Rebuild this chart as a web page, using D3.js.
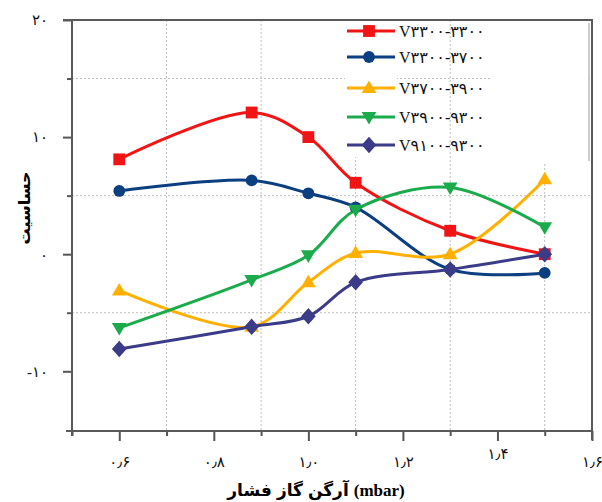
<!DOCTYPE html>
<html><head><meta charset="utf-8">
<script src="https://cdn.jsdelivr.net/npm/d3@7"></script>
<style>body{margin:0;background:#fff}svg{display:block}</style>
</head><body>
<svg id="c" width="602" height="502"></svg>
<script>
// ---- data ----
const pressures = [0.6, 0.88, 1.0, 1.1, 1.3, 1.5];
const seriesNames = ["V۳۳۰۰-۳۳۰۰","V۳۳۰۰-۳۷۰۰","V۳۷۰۰-۳۹۰۰","V۳۹۰۰-۹۳۰۰","V۹۱۰۰-۹۳۰۰"];
const red    = [8.1, 12.1, 10.0, 6.1, 2.0, 0.0];
const blue   = [5.4, 6.3, 5.2, 4.0, -1.3, -1.6];
const orange = [-3.1, -6.2, -2.4, 0.1, 0.0, 6.4];
const green  = [-6.3, -2.2, -0.1, 3.8, 5.7, 2.3];
const purple = [-8.1, -6.2, -5.3, -2.4, -1.3, 0.0];
const xMajorTicks = [0.6, 0.8, 1.0, 1.2, 1.4, 1.6];
const xMinorTicks = [0.5, 0.7, 0.9, 1.1, 1.3, 1.5];
const yMajorTicks = [-10, 0, 10, 20];
const yMinorTicks = [-5, 5, 15];
const xTitleWords = ["فشار", "گاز", "آرگن", "(mbar)"];
const yTitle = "حساسیت";

const colors = ["#f01414", "#0b3f80", "#ffb000", "#1bab4c", "#3b3b88"];
const values = [red, blue, orange, green, purple];

const fa = s => String(s).replace(/[0-9]/g, d => "۰۱۲۳۴۵۶۷۸۹"[d]);

const svg = d3.select("#c");
const x = d3.scaleLinear().domain([0.5, 1.6]).range([72, 592]);
const y = d3.scaleLinear().domain([-15.1, 20]).range([431, 20]);

// custom symbols
const sq = {draw(c, s){const h=Math.sqrt(s)/2;c.moveTo(-h,-h);c.lineTo(h,-h);c.lineTo(h,h);c.lineTo(-h,h);c.closePath();}};
const circ = {draw(c, s){const r=Math.sqrt(s/Math.PI);c.moveTo(r,0);c.arc(0,0,r,0,2*Math.PI);}};
const triUp = {draw(c, s){const w=Math.sqrt(s)*1.25,h=w*0.85;c.moveTo(0,-h*0.6);c.lineTo(w/2,h*0.4);c.lineTo(-w/2,h*0.4);c.closePath();}};
const triDn = {draw(c, s){const w=Math.sqrt(s)*1.25,h=w*0.85;c.moveTo(0,h*0.6);c.lineTo(w/2,-h*0.4);c.lineTo(-w/2,-h*0.4);c.closePath();}};
const diam = {draw(c, s){const w=Math.sqrt(s)*1.2,h=w*1.12;c.moveTo(0,-h/2);c.lineTo(w/2,0);c.lineTo(0,h/2);c.lineTo(-w/2,0);c.closePath();}};
const shapes = [sq, circ, triUp, triDn, diam];
const sizes = [140, 110, 140, 140, 150];

// grid
const grid = svg.append("g").attr("stroke", "#bdbdbd").attr("stroke-width", 1).attr("stroke-dasharray", "2,2");
grid.selectAll(".gx").data(xMinorTicks.slice(1)).join("line")
  .attr("x1", d => x(d)).attr("x2", d => x(d)).attr("y1", y(20)).attr("y2", y(-15.1));
grid.selectAll(".gy").data(yMinorTicks).join("line")
  .attr("y1", d => y(d)).attr("y2", d => y(d)).attr("x1", x(0.5)).attr("x2", x(1.6));

// legend backing patches
svg.append("rect").attr("x", 345).attr("y", 21).attr("width", 52).attr("height", 136).attr("fill", "#fff");
svg.append("rect").attr("x", 492).attr("y", 21).attr("width", 97).attr("height", 141).attr("fill", "#fff");
svg.append("line").attr("x1", 589).attr("x2", 589).attr("y1", 23).attr("y2", 161).attr("stroke", "#aaa").attr("stroke-width", 1.2);

// axes ticks
const fontNum = "'Liberation Serif','DejaVu Sans',serif";
const yMaj = svg.append("g").attr("transform", `translate(${x(0.5)},0)`)
  .call(d3.axisLeft(y).tickValues(yMajorTicks).tickSize(9).tickPadding(15).tickFormat(d => d < 0 ? "-" + fa(-d) : fa(d)));
const yMin = svg.append("g").attr("transform", `translate(${x(0.5)},0)`)
  .call(d3.axisLeft(y).tickValues(yMinorTicks).tickSize(5).tickFormat(""));
const xMaj = svg.append("g").attr("transform", `translate(0,${y(-15.1)})`)
  .call(d3.axisBottom(x).tickValues(xMajorTicks).tickSize(10).tickPadding(15).tickFormat(d => fa(d.toFixed(1)).replace(".", "٫")));
const xMin = svg.append("g").attr("transform", `translate(0,${y(-15.1)})`)
  .call(d3.axisBottom(x).tickValues(xMinorTicks).tickSize(5).tickFormat(""));
[yMaj, yMin, xMaj, xMin].forEach(g => {
  g.select(".domain").remove();
  g.selectAll(".tick line").attr("stroke", "#555").attr("stroke-width", 2);
  g.selectAll("text").attr("fill", "#111").style("font-family", fontNum).style("font-size", "15px");
});
xMaj.selectAll(".tick text").filter(d => d === 1.4).attr("y", 17);

// frame
const frame = svg.append("g").attr("stroke", "#5a5a5a").attr("stroke-width", 2).attr("fill", "none");
frame.append("line").attr("x1", 63).attr("x2", x(1.6) + 1).attr("y1", y(20)).attr("y2", y(20));
frame.append("line").attr("x1", x(0.5)).attr("x2", x(0.5)).attr("y1", y(20)).attr("y2", y(-15.1) + 5);
frame.append("line").attr("x1", 66).attr("x2", x(1.6)).attr("y1", y(-15.1)).attr("y2", y(-15.1));
frame.append("line").attr("x1", x(1.6)).attr("x2", x(1.6)).attr("y1", y(20)).attr("y2", y(-15.1) + 9);

// lines
const line = d3.line().x((d, i) => x(pressures[i])).y(d => y(d)).curve(d3.curveCatmullRom.alpha(0.5));
values.forEach((vals, k) => {
  svg.append("path").attr("d", line(vals)).attr("fill", "none")
    .attr("stroke", colors[k]).attr("stroke-width", 3).attr("stroke-linejoin", "round");
});
values.forEach((vals, k) => {
  svg.append("g").selectAll("path").data(vals).join("path")
    .attr("transform", (d, i) => `translate(${x(pressures[i])},${y(d)})`)
    .attr("d", d3.symbol().type(shapes[k]).size(sizes[k]))
    .attr("fill", colors[k]);
});

// legend
const legendRows = [31, 57, 88, 117, 145];
const lg = svg.append("g");
seriesNames.forEach((name, k) => {
  const g = lg.append("g").attr("transform", `translate(0,${legendRows[k]})`);
  g.append("line").attr("x1", 347).attr("x2", 395).attr("y1", 0).attr("y2", 0)
    .attr("stroke", colors[k]).attr("stroke-width", 3);
  g.append("path").attr("transform", "translate(369,0)")
    .attr("d", d3.symbol().type(shapes[k]).size(sizes[k])).attr("fill", colors[k]);
  g.append("text").attr("x", 399).attr("y", 6).text(name)
    .style("font-family", fontNum).style("font-size", "16px").attr("fill", "#111");
});

// titles
svg.append("text").attr("transform", `translate(30,${208}) rotate(-90)`).attr("text-anchor", "middle")
  .text(yTitle).style("font-family", "'DejaVu Sans',sans-serif").style("font-weight", "bold").style("font-size", "16px");

// x title: words laid out left-to-right as in the reference
const tg = svg.append("g").attr("class", "xtitle");
const words = xTitleWords.map(w => tg.append("text").attr("y", 496).text(w)
  .style("font-family", "'Liberation Serif','DejaVu Sans',serif").style("font-weight", "bold").style("font-size", "17px"));
const gap = 5;
const widths = words.map(t => t.node().getComputedTextLength());
const total = d3.sum(widths) + gap * (words.length - 1);
let cx = 316 - total / 2;
words.forEach((t, i) => { t.attr("x", cx); cx += widths[i] + gap; });
</script>
</body></html>
